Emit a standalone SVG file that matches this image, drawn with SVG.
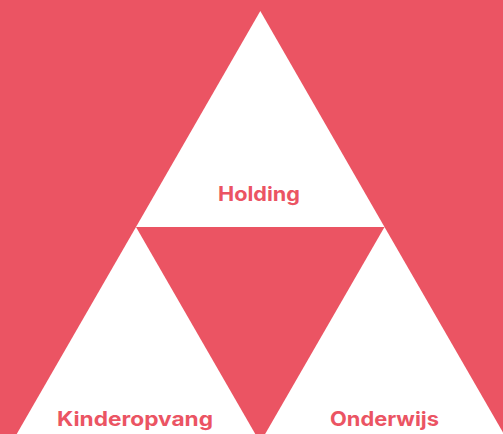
<svg xmlns="http://www.w3.org/2000/svg" width="503" height="434" viewBox="0 0 503 434">
<style>
.tri{fill:#ffffff}
.lbl{font-family:Inter,"Open Sans","Liberation Sans",sans-serif;font-weight:700;font-size:20px;fill:#EB5463;text-anchor:middle}
</style>
<rect x="0" y="0" width="503" height="434" fill="#EB5463"/>
<g id="holding">
<polygon class="tri" points="260.3,11 384.5,227 136,227"/>
<text class="lbl" x="259" y="200.5" textLength="82" lengthAdjust="spacingAndGlyphs">Holding</text>
</g>
<g id="kinderopvang">
<polygon class="tri" points="136,227 257,437 15,437"/>
<text class="lbl" x="135" y="425.5" textLength="156" lengthAdjust="spacingAndGlyphs">Kinderopvang</text>
</g>
<g id="onderwijs">
<polygon class="tri" points="384.5,227 505,436 264,436"/>
<text class="lbl" x="384.5" y="425.5" textLength="109" lengthAdjust="spacingAndGlyphs">Onderwijs</text>
</g>
</svg>
